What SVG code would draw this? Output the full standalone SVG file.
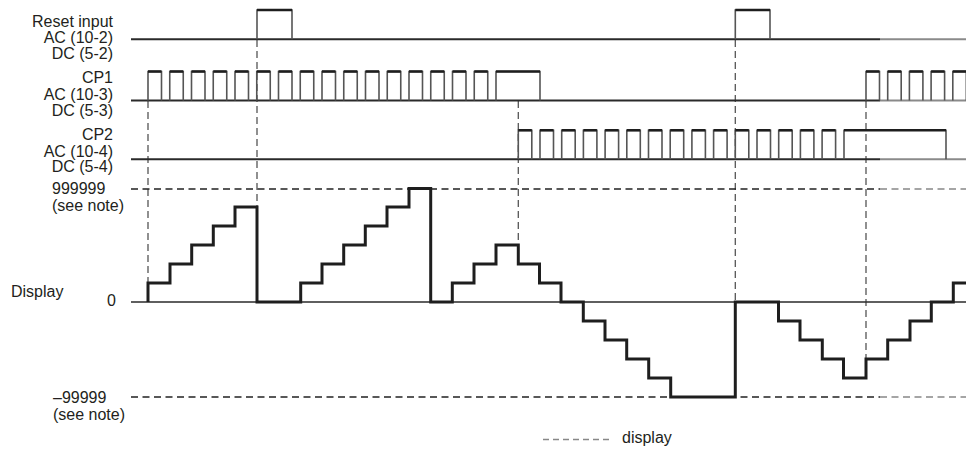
<svg xmlns="http://www.w3.org/2000/svg" width="966" height="452" viewBox="0 0 966 452">
<style>
text{font-family:"Liberation Sans",Arial,sans-serif;font-size:16px;fill:#231f20}
.end{text-anchor:end}
.base{stroke:#2a2a2a;stroke-width:2;fill:none}
.baselt{stroke:#8a8a8a;stroke-width:2;fill:none}
.side{stroke:#555;stroke-width:1.6;fill:none}
.top{stroke:#1e1e1e;stroke-width:2.6;fill:none}
.vdash{stroke:#555;stroke-width:1.3;stroke-dasharray:7 4;fill:none}
.hdash{stroke:#222;stroke-width:1.6;stroke-dasharray:7 4.5;fill:none}
.hdashlt{stroke:#888;stroke-width:1.6;stroke-dasharray:7 4.5;fill:none}
.zero{stroke:#2a2a2a;stroke-width:1.4;fill:none}
.disp{stroke:#1e1e1e;stroke-width:3;fill:none;stroke-linejoin:miter}
.legend{stroke:#888;stroke-width:1.3;stroke-dasharray:6 4;fill:none}
</style>
<defs>
<g id="pulse"><path class="side" d="M0,0 V-29 H13.5 V0"/><path class="top" d="M0,-29 H13.5"/></g>
</defs>

<g id="labels">
<text class="end" x="113" y="27">Reset input</text>
<text class="end" x="113" y="43">AC (10-2)</text>
<text class="end" x="113" y="59">DC (5-2)</text>
<text class="end" x="113" y="83">CP1</text>
<text class="end" x="113" y="99.5">AC (10-3)</text>
<text class="end" x="113" y="115.5">DC (5-3)</text>
<text class="end" x="113" y="140">CP2</text>
<text class="end" x="113" y="156.5">AC (10-4)</text>
<text class="end" x="113" y="172">DC (5-4)</text>
<text x="52" y="193.5">999999</text>
<text x="52" y="210.5">(see note)</text>
<text x="11" y="296.5">Display</text>
<text x="107" y="306">0</text>
<text x="53" y="402.5">–99999</text>
<text x="53" y="419.5">(see note)</text>
</g>

<g id="guides">
<path class="vdash" d="M148,101 V302"/>
<path class="vdash" d="M257,40 V207"/>
<path class="vdash" d="M518.3,101 V245"/>
<path class="vdash" d="M735.3,40 V302"/>
<path class="vdash" d="M866,101 V359"/>
<path class="hdash" d="M131,189 H880"/>
<path class="hdashlt" d="M880,189 H966"/>
<path class="hdash" d="M131,397 H880"/>
<path class="hdashlt" d="M880,397 H966"/>
<path class="zero" d="M131,302 H966"/>
</g>

<g id="reset">
<path class="base" d="M131,39.3 H880"/>
<path class="baselt" d="M880,39.3 H966"/>
<path class="side" d="M257,39.3 V10 H292 V39.3"/><path class="top" d="M257,10 H292"/>
<path class="side" d="M735.3,39.3 V10 H770 V39.3"/><path class="top" d="M735.3,10 H770"/>
</g>

<g id="cp1">
<path class="base" d="M131,100.5 H880"/>
<path class="baselt" d="M880,100.5 H966"/>
<use href="#pulse" x="148" y="100.5"/>
<use href="#pulse" x="169.75" y="100.5"/>
<use href="#pulse" x="191.5" y="100.5"/>
<use href="#pulse" x="213.25" y="100.5"/>
<use href="#pulse" x="235" y="100.5"/>
<use href="#pulse" x="256.75" y="100.5"/>
<use href="#pulse" x="278.5" y="100.5"/>
<use href="#pulse" x="300.25" y="100.5"/>
<use href="#pulse" x="322" y="100.5"/>
<use href="#pulse" x="343.75" y="100.5"/>
<use href="#pulse" x="365.5" y="100.5"/>
<use href="#pulse" x="387.25" y="100.5"/>
<use href="#pulse" x="409" y="100.5"/>
<use href="#pulse" x="430.75" y="100.5"/>
<use href="#pulse" x="452.5" y="100.5"/>
<use href="#pulse" x="474.25" y="100.5"/>
<path class="side" d="M496,100.5 V71.5 H540 V100.5"/><path class="top" d="M496,71.5 H540"/>
<use href="#pulse" x="866" y="100.5"/>
<use href="#pulse" x="887.7" y="100.5"/>
<use href="#pulse" x="909.4" y="100.5"/>
<use href="#pulse" x="931.1" y="100.5"/>
<use href="#pulse" x="952.8" y="100.5"/>
</g>

<g id="cp2">
<path class="base" d="M131,159.3 H880"/>
<path class="baselt" d="M880,159.3 H966"/>
<use href="#pulse" x="518.3" y="159.3"/>
<use href="#pulse" x="540" y="159.3"/>
<use href="#pulse" x="561.7" y="159.3"/>
<use href="#pulse" x="583.4" y="159.3"/>
<use href="#pulse" x="605.1" y="159.3"/>
<use href="#pulse" x="626.8" y="159.3"/>
<use href="#pulse" x="648.5" y="159.3"/>
<use href="#pulse" x="670.2" y="159.3"/>
<use href="#pulse" x="691.9" y="159.3"/>
<use href="#pulse" x="713.6" y="159.3"/>
<use href="#pulse" x="735.3" y="159.3"/>
<use href="#pulse" x="757" y="159.3"/>
<use href="#pulse" x="778.7" y="159.3"/>
<use href="#pulse" x="800.4" y="159.3"/>
<use href="#pulse" x="822.1" y="159.3"/>
<path class="side" d="M844,159.3 V130.3 H946 V159.3"/><path class="top" d="M844,130.3 H946"/>
</g>

<g id="display">
<path class="disp" d="M148,302 V283 H170 V264 H191.7 V245 H213.3 V226 H235 V207 H257 V302 H300.7 V283 H322 V264 H343.7 V245 H365.3 V226 H387 V207 H409 V188.5 H430.7 V302 H452.3 V283 H474 V264 H496 V245 H518.3 V264 H539.5 V283 H561 V302 H583.3 V321 H605 V340 H626.7 V359 H648.7 V378 H670.7 V397 H735.3 V302 H778.5 V321 H800 V340 H822.3 V359 H843.5 V378 H866 V359 H887.7 V340 H910 V321 H931.3 V302 H953.3 V283 H966"/>
</g>

<g id="legend">
<path class="legend" d="M543,439.5 H613"/>
<text x="622" y="443">display</text>
</g>
</svg>
